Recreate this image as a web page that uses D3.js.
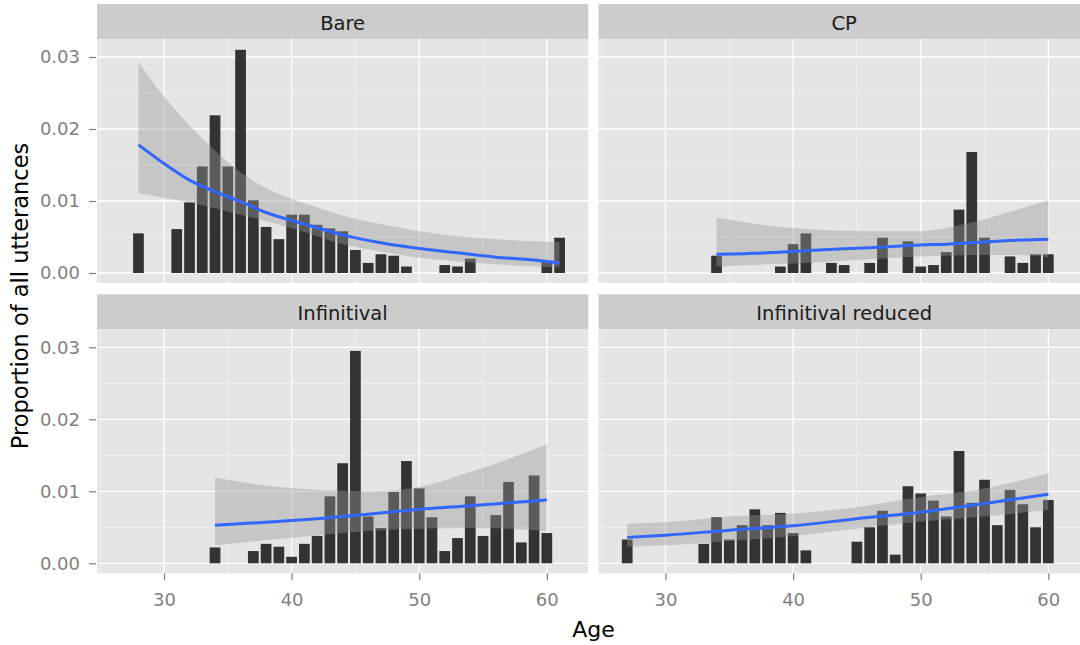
<!DOCTYPE html>
<html>
<head>
<meta charset="utf-8">
<script src="https://cdn.jsdelivr.net/npm/d3@7"></script>
<style>
  body { margin: 0; background: #fff; }
  svg { display: block; font-family: "DejaVu Sans", Verdana, sans-serif; }
</style>
</head>
<body>
<div id="chart"></div>
<script>
// facet names
const facets = ["Bare", "CP", "Infinitival", "Infinitival reduced"];

// bars: age and proportion of all utterances
const bareAge  = [28,31,32,33,34,35,36,37,38,39,40,41,42,43,44,45,46,47,48,49,52,53,54,60,61];
const bareProp = [.0055,.0061,.0098,.0148,.0219,.0148,.0310,.0101,.0064,.0047,.0081,.0081,.0067,.0062,.0058,.0032,.0014,.0026,.0024,.0009,.0011,.0009,.0020,.0016,.0049];

const cpAge  = [34,39,40,41,43,44,46,47,49,50,51,52,53,54,55,57,58,59,60];
const cpProp = [.0024,.0009,.0040,.0055,.0014,.0011,.0014,.0049,.0044,.0009,.0011,.0029,.0088,.0168,.0049,.0023,.0014,.0026,.0026];

const infAge  = [34,37,38,39,40,41,42,43,44,45,46,47,48,49,50,51,52,53,54,55,56,57,58,59,60];
const infProp = [.0022,.0017,.0027,.0023,.0009,.0027,.0038,.0093,.0139,.0295,.0065,.0049,.0099,.0142,.0104,.0064,.0017,.0035,.0093,.0038,.0067,.0113,.0029,.0122,.0042];

const redAge  = [27,33,34,35,36,37,38,39,40,41,45,46,47,48,49,50,51,52,53,54,55,56,57,58,59,60];
const redProp = [.0033,.0027,.0064,.0033,.0053,.0075,.0053,.0070,.0042,.0018,.0030,.0050,.0073,.0012,.0107,.0097,.0087,.0065,.0156,.0084,.0116,.0053,.0102,.0082,.0050,.0088];

// smoother: fit, lower and upper band
const bareFitAge = [28,30,32,34,36,38,41,44,47,50,53,56,59,61];
const bareFit    = [.0178,.0152,.0129,.0113,.0099,.0084,.0068,.0053,.0042,.0034,.0028,.0022,.0018,.0014];
const bareLo     = [.0111,.0104,.0098,.0090,.0081,.0072,.0057,.0040,.0030,.0021,.0016,.0012,.0009,.0008];
const bareHi     = [.0293,.0245,.0205,.0170,.0140,.0118,.0097,.0080,.0068,.0058,.0051,.0047,.0044,.0043];

const cpFitAge = [34,38,42,46,50,52,54,57,60];
const cpFit    = [.0026,.0028,.0032,.0035,.0039,.0040,.0042,.0045,.0047];
const cpLo     = [.0009,.0012,.0015,.0019,.0023,.0024,.0025,.0025,.0022];
const cpHi     = [.0077,.0066,.0060,.0058,.0058,.0063,.0070,.0085,.0101];

const infFitAge = [34,38,42,46,50,54,57,60];
const infFit    = [.0053,.0057,.0062,.0068,.0075,.0080,.0084,.0088];
const infLo     = [.0025,.0032,.0039,.0045,.0048,.0049,.0048,.0045];
const infHi     = [.0119,.0108,.0102,.0100,.0106,.0127,.0145,.0165];

const redFitAge = [27,30,35,40,45,50,55,60];
const redFit    = [.0036,.0039,.0046,.0052,.0062,.0071,.0083,.0096];
const redLo     = [.0023,.0025,.0031,.0038,.0048,.0058,.0065,.0074];
const redHi     = [.0055,.0057,.0065,.0069,.0078,.0092,.0104,.0125];

const xTicks = [30, 40, 50, 60];
const yTicks = [0, 0.01, 0.02, 0.03];

let panels = [
  {name: facets[0], age: bareAge, prop: bareProp, fAge: bareFitAge, fit: bareFit, lo: bareLo, hi: bareHi},
  {name: facets[1], age: cpAge,   prop: cpProp,   fAge: cpFitAge,   fit: cpFit,   lo: cpLo,   hi: cpHi},
  {name: facets[2], age: infAge,  prop: infProp,  fAge: infFitAge,  fit: infFit,  lo: infLo,  hi: infHi},
  {name: facets[3], age: redAge,  prop: redProp,  fAge: redFitAge,  fit: redFit,  lo: redLo,  hi: redHi}
];

let width = 1080, height = 645;
let panelW = 491.3, plotH = 244, stripH = 35;
let colX = [97, 598.5];
let rowY = [4, 294.3];

let svg = d3.select("#chart").append("svg")
  .attr("width", width)
  .attr("height", height);

svg.append("rect").attr("width", width).attr("height", height).attr("fill", "#fff");

let x = d3.scaleLinear().domain([24.75, 63.25]).range([0, panelW]);
let y = d3.scaleLinear().domain([-0.00139, 0.0325]).range([plotH, 0]);
let barW = (x(1) - x(0)) * 0.84;

panels.forEach(function(p, i){
  let col = i % 2, row = Math.floor(i / 2);
  let g = svg.append("g")
    .attr("transform", `translate(${colX[col]},${rowY[row]})`);

  // strip
  g.append("rect")
    .attr("width", panelW).attr("height", stripH)
    .attr("fill", "#cccccc");
  g.append("text")
    .attr("x", panelW / 2).attr("y", 25.5)
    .attr("text-anchor", "middle")
    .style("font-size", "19.5px")
    .attr("fill", "#1a1a1a")
    .text(p.name);

  let plot = g.append("g").attr("transform", `translate(0,${stripH})`);
  plot.append("rect")
    .attr("width", panelW).attr("height", plotH)
    .attr("fill", "#e5e5e5");

  // minor grid
  plot.selectAll(".minx").data([25, 35, 45, 55]).enter().append("line")
    .attr("x1", d => x(d)).attr("x2", d => x(d))
    .attr("y1", 0).attr("y2", plotH)
    .attr("stroke", "#f2f2f2").attr("stroke-width", 0.8);
  plot.selectAll(".miny").data([0.005, 0.015, 0.025]).enter().append("line")
    .attr("y1", d => y(d)).attr("y2", d => y(d))
    .attr("x1", 0).attr("x2", panelW)
    .attr("stroke", "#f2f2f2").attr("stroke-width", 0.8);
  // major grid
  plot.selectAll(".majx").data(xTicks).enter().append("line")
    .attr("x1", d => x(d)).attr("x2", d => x(d))
    .attr("y1", 0).attr("y2", plotH)
    .attr("stroke", "#fff").attr("stroke-width", 1.3);
  plot.selectAll(".majy").data(yTicks).enter().append("line")
    .attr("y1", d => y(d)).attr("y2", d => y(d))
    .attr("x1", 0).attr("x2", panelW)
    .attr("stroke", "#fff").attr("stroke-width", 1.3);

  // bars
  let bars = p.age.map((a, k) => ({age: a, v: p.prop[k]}));
  plot.selectAll(".bar").data(bars).enter().append("rect")
    .attr("x", d => x(d.age) - barW / 2)
    .attr("width", barW)
    .attr("y", d => y(d.v))
    .attr("height", d => y(0) - y(d.v))
    .attr("fill", "#333333");

  // confidence band then fitted line
  let sm = p.fAge.map((a, k) => ({age: a, fit: p.fit[k], lo: p.lo[k], hi: p.hi[k]}));
  let band = d3.area()
    .x(d => x(d.age)).y0(d => y(d.lo)).y1(d => y(d.hi))
    .curve(d3.curveMonotoneX);
  plot.append("path").datum(sm)
    .attr("d", band)
    .attr("fill", "#999999").attr("fill-opacity", 0.4);
  let line = d3.line().x(d => x(d.age)).y(d => y(d.fit)).curve(d3.curveMonotoneX);
  plot.append("path").datum(sm)
    .attr("d", line)
    .attr("fill", "none")
    .attr("stroke", "#3366FF").attr("stroke-width", 3);

  // axes on outer panels only
  if (col == 0) {
    let ay = plot.append("g")
      .attr("transform", "translate(-1,0)")
      .call(d3.axisLeft(y).tickValues(yTicks).tickFormat(d3.format(".2f")).tickSize(7).tickPadding(9));
    ay.select(".domain").remove();
  }
  if (row == 1) {
    let ax = plot.append("g")
      .attr("transform", `translate(0,${plotH})`)
      .call(d3.axisBottom(x).tickValues(xTicks).tickSize(7).tickPadding(13));
    ax.select(".domain").remove();
  }
});

svg.selectAll(".tick line").attr("stroke", "#7f7f7f").attr("stroke-width", 1.2);
svg.selectAll(".tick text")
  .attr("fill", "#7f7f7f")
  .style("font-size", "18px")
  .style("font-family", "\"DejaVu Sans\", Verdana, sans-serif");

// axis titles
svg.append("text")
  .attr("x", 593.5).attr("y", 637)
  .attr("text-anchor", "middle")
  .style("font-size", "22px")
  .text("Age");
svg.append("text")
  .attr("transform", "translate(28,296) rotate(-90)")
  .attr("text-anchor", "middle")
  .style("font-size", "22.5px")
  .text("Proportion of all utterances");
</script>
</body>
</html>
